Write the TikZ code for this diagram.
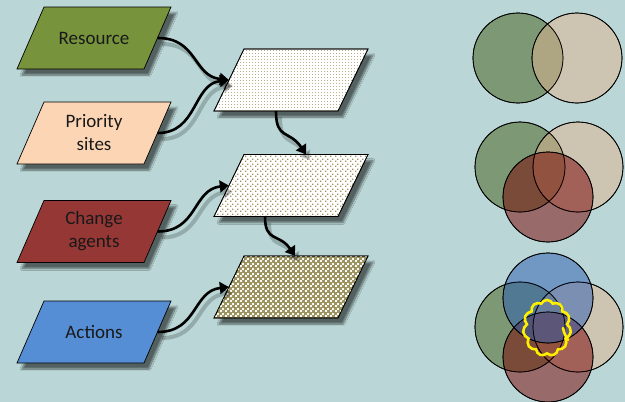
\documentclass[tikz,border=0pt]{standalone}
\usepackage{fontspec}
\setmainfont{Carlito}
\usetikzlibrary{shapes.symbols,arrows.meta,shadows.blur,patterns,patterns.meta,calc}

\definecolor{bgc}{RGB}{186,214,214}
\definecolor{resgreen}{RGB}{119,147,60}
\definecolor{peach}{RGB}{252,213,181}
\definecolor{agentred}{RGB}{149,55,53}
\definecolor{actblue}{RGB}{85,142,213}
\definecolor{khaki}{RGB}{158,148,98}
\definecolor{vgreen}{RGB}{66,92,20}
\definecolor{vbeige}{RGB}{224,180,144}
\definecolor{vred}{RGB}{120,0,0}
\definecolor{vblue}{RGB}{40,92,178}
\definecolor{cloudyellow}{RGB}{255,240,0}

% tiny squares on a diagonal lattice
\pgfdeclarepattern{name=latticedots, type=uncolored,
  bottom left={\pgfpoint{0pt}{0pt}}, top right={\pgfpoint{5pt}{5pt}},
  tile size={\pgfpoint{5pt}{5pt}},
  code={\pgfpathrectangle{\pgfpoint{0pt}{0pt}}{\pgfpoint{1.6pt}{1.6pt}}
        \pgfpathrectangle{\pgfpoint{2.5pt}{2.5pt}}{\pgfpoint{1.6pt}{1.6pt}}
        \pgfusepath{fill}}}
% small white checks
\pgfdeclarepattern{name=finechecks, type=uncolored,
  bottom left={\pgfpoint{0pt}{0pt}}, top right={\pgfpoint{5pt}{5pt}},
  tile size={\pgfpoint{5pt}{5pt}},
  code={\pgfpathrectangle{\pgfpoint{0pt}{0pt}}{\pgfpoint{2.2pt}{2.2pt}}
        \pgfpathrectangle{\pgfpoint{2.5pt}{2.5pt}}{\pgfpoint{2.2pt}{2.2pt}}
        \pgfusepath{fill}}}
% sparse speckle
\pgfdeclarepattern{name=speckle, type=uncolored,
  bottom left={\pgfpoint{0pt}{0pt}}, top right={\pgfpoint{3pt}{3pt}},
  tile size={\pgfpoint{3pt}{3pt}},
  code={\pgfpathrectangle{\pgfpoint{0pt}{0pt}}{\pgfpoint{1pt}{1pt}}
        \pgfusepath{fill}}}

\tikzset{
  boxshadow/.style={blur shadow={shadow xshift=5pt, shadow yshift=-6pt,
      shadow opacity=55, shadow blur steps=8}},
  inbox/.style={rectangle, minimum width=127pt, minimum height=62pt, inner sep=0pt,
    align=center, text=black!90, font=\fontsize{19}{23}\selectfont},
  stage/.style={rectangle, minimum width=124pt, minimum height=62pt, inner sep=0pt},
  slab/.style={draw=black, line width=0.7pt, boxshadow},
  flow/.style={line width=2.6pt, black, -{Triangle[length=9pt,width=12pt]},
    preaction={draw=black, opacity=0.2, line width=4pt,
      transform canvas={shift={(4pt,-6pt)}}}},
  venn/.style={draw=black, line width=0.7pt, fill opacity=0.5},
}

% parallelogram round a centre: #1 centre, #2 half width, #3 half slant, #4 options
\newcommand{\slabat}[4]{%
  \path[#4] ($(#1)+(-#2+#3,-31)$) -- ($(#1)+(#2+#3,-31)$)
    -- ($(#1)+(#2-#3,31)$) -- ($(#1)+(-#2-#3,31)$) -- cycle;}

\begin{document}
\begin{tikzpicture}[x=1pt,y=-1pt]
  \fill[bgc] (0,0) rectangle (625,402);
  \useasboundingbox (0,0) rectangle (625,402);

  % input boxes
  \coordinate (resC) at (94,38);
  \coordinate (priC) at (94,133);
  \coordinate (agtC) at (94,231.5);
  \coordinate (actC) at (94,332);
  \slabat{resC}{63.5}{13.5}{slab, fill=resgreen}
  \slabat{priC}{63.5}{13.5}{slab, fill=peach}
  \slabat{agtC}{63.5}{13.5}{slab, fill=agentred}
  \slabat{actC}{63.5}{13.5}{slab, fill=actblue}
  \node[inbox] (res) at (resC) {Resource};
  \node[inbox] (pri) at (priC) {Priority\\sites};
  \node[inbox] (agt) at (agtC) {Change\\agents};
  \node[inbox] (act) at (actC) {Actions};

  % combined layers
  \coordinate (s1C) at (291,80);
  \coordinate (s2C) at (291,185.5);
  \coordinate (s3C) at (291,287);
  \slabat{s1C}{62}{15}{slab, fill=white}
  \slabat{s1C}{62}{15}{pattern=speckle, pattern color=khaki!75}
  \slabat{s2C}{62}{15}{slab, fill=white}
  \slabat{s2C}{62}{15}{pattern=latticedots, pattern color=khaki}
  \slabat{s3C}{62}{15}{slab, fill=khaki}
  \slabat{s3C}{62}{15}{pattern=finechecks, pattern color=white!94!khaki}
  \foreach \c in {s1C,s2C,s3C}
    \slabat{\c}{62}{15}{draw=black, line width=0.7pt}
  \node[stage] (s1) at (s1C) {};
  \node[stage] (s2) at (s2C) {};
  \node[stage] (s3) at (s3C) {};

  % connectors
  \draw[flow] (res.east) .. controls +(40,0) and +(-36,-4) .. (s1.west);
  \draw[flow] (pri.east) .. controls +(40,0) and +(-36,4) .. (s1.west);
  \draw[flow] (agt.east) .. controls +(40,0) and +(-36,4) .. (s2.west);
  \draw[flow] (act.east) .. controls +(40,0) and +(-36,4) .. (s3.west);
  \coordinate (d1a) at ([xshift=-15pt]s1.south);
  \coordinate (d1b) at ([xshift=15pt]s2.north);
  \coordinate (d2a) at ([xshift=-26pt]s2.south);
  \coordinate (d2b) at ([xshift=4pt]s3.north);
  \draw[flow] (d1a) .. controls +(0,29) and +(-17,-25) .. (d1b);
  \draw[flow] (d2a) .. controls +(0,26) and +(-16,-23) .. (d2b);

  % Venn: two sets
  \fill[vgreen, venn] (518,58) circle (45);
  \fill[vbeige, venn] (577,58) circle (45);
  \draw[line width=0.7pt] (518,58) circle (45) (577,58) circle (45);

  % Venn: three sets
  \fill[vgreen, venn] (520,167) circle (45);
  \fill[vbeige, venn] (578,167) circle (45);
  \fill[vred, venn] (548,197) circle (45);
  \draw[line width=0.7pt] (520,167) circle (45) (578,167) circle (45) (548,197) circle (45);

  % Venn: four sets
  \fill[vgreen, venn] (520,327) circle (45);
  \fill[vbeige, venn] (578,327) circle (45);
  \fill[vred, venn] (548,357) circle (45);
  \fill[vblue, venn] (548,298) circle (45);
  \draw[line width=0.7pt] (520,327) circle (45) (578,327) circle (45)
      (548,357) circle (45) (548,298) circle (45);

  % highlighted overlap
  \node[cloud, cloud puffs=11, cloud puff arc=130, aspect=0.85, draw=cloudyellow,
        line width=2.6pt, minimum width=48pt, minimum height=56pt, inner sep=0pt]
        (hot) at (547,328) {};
  \draw[cloudyellow, line width=2.6pt, line cap=round]
        ($(hot.center)+(16,0)$) .. controls +(1,6) and +(-2,-4) .. ($(hot.center)+(21,12)$);
\end{tikzpicture}
\end{document}
